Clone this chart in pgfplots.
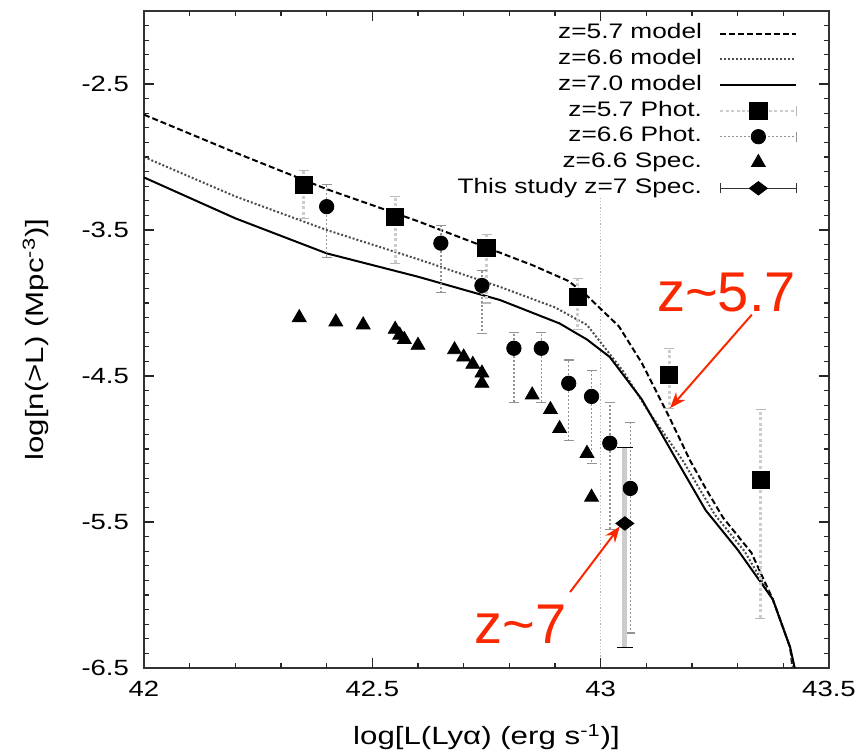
\documentclass[border=0pt]{standalone}
\usepackage{fontspec}
\setmainfont{Liberation Sans}[FakeStretch=1.25]
\newfontfamily\redfont{Liberation Sans}
\usepackage{pgfplots}
\pgfplotsset{compat=1.18}
\usetikzlibrary{arrows.meta}
\definecolor{annred}{RGB}{250,40,0}
\begin{document}
\begin{tikzpicture}
\useasboundingbox (-72pt,-42pt) rectangle (357pt,334pt);
\begin{axis}[
  at={(0pt,0pt)}, anchor=south west,
  scale only axis, width=342.5pt, height=328.5pt,
  xmin=42, xmax=43.5, ymin=-6.5, ymax=-2,
  xtick={42,42.5,43,43.5}, xticklabels={42,42.5,43,43.5},
  ytick={-6.5,-5.5,-4.5,-3.5,-2.5}, yticklabels={-6.5,-5.5,-4.5,-3.5,-2.5},
  tick align=inside,
  tickwidth=5pt, subtickwidth=2.5pt,
  major tick style={draw=black!85, line width=0.6pt},
  axis line style={black!80, line width=0.7pt},
  tick label style={font=\fontsize{11}{12}\selectfont},
  xticklabel style={yshift=-3pt},
  yticklabel style={xshift=-4pt},
  label style={font=\fontsize{12.5}{14}\selectfont},
  xlabel={log[L(Lyα) (erg s\textsuperscript{-1})]},
  ylabel={log[n(>L) (Mpc\textsuperscript{-3})]},
  xlabel style={at={(axis description cs:0.5,-0.117)}, anchor=base},
  ylabel style={at={(axis description cs:-0.158,0.5)}, anchor=center},
  legend plot pos=right,
  legend cell align=right,
  legend style={at={(rel axis cs:0.955,0.986)}, anchor=north east, draw=none, fill=none, inner sep=0pt,
    font=\fontsize{10.5}{13}\selectfont,
    nodes={inner sep=0pt, text height=9pt, text depth=3.9pt},
    /tikz/every odd column/.append style={column sep=8.5pt}},
  legend image code/.code={\draw[mark repeat=2,mark phase=2,#1] plot coordinates {(0pt,0pt) (19pt,0pt) (38pt,0pt)};},
]
\addplot[gray!60, densely dotted, line width=0.6pt, forget plot] coordinates {(43,-3.28) (43,-6.5)};

\addplot[black, line width=1pt, dash pattern=on 3pt off 1.5pt] coordinates {
(42.0,-2.71) (42.2,-2.97) (42.4,-3.22) (42.6,-3.44) (42.75,-3.62) (42.85,-3.74) (42.93,-3.85) (42.97,-3.95) (43.0,-4.04) (43.04,-4.16) (43.09,-4.41) (43.15,-4.78) (43.196,-5.08) (43.23,-5.27) (43.268,-5.47) (43.33,-5.71) (43.377,-6.03) (43.415,-6.36) (43.42,-6.5)};
\addlegendentry{z=5.7 model}

\addplot[black!70, line width=1pt, dash pattern=on 1pt off 1pt] coordinates {
(42.0,-3.00) (42.2,-3.27) (42.4,-3.50) (42.6,-3.70) (42.78,-3.89) (42.9,-4.03) (42.97,-4.15) (43.0,-4.27) (43.05,-4.47) (43.1,-4.72) (43.18,-5.08) (43.25,-5.45) (43.315,-5.70) (43.377,-6.03) (43.415,-6.36) (43.422,-6.5)};
\addlegendentry{z=6.6 model}

\addplot[black, line width=1pt] coordinates {
(42.0,-3.14) (42.2,-3.42) (42.4,-3.66) (42.6,-3.82) (42.78,-3.98) (42.91,-4.14) (42.97,-4.25) (43.02,-4.37) (43.09,-4.66) (43.167,-5.08) (43.23,-5.42) (43.30,-5.69) (43.377,-6.03) (43.415,-6.36) (43.425,-6.5)};
\addlegendentry{z=7.0 model}

\addplot[only marks, mark=square*, mark size=4.3pt, black,
  legend image code/.code={
    \draw[gray!40, line width=1.4pt, dash pattern=on 1.5pt off 1.2pt] (0pt,0pt) -- (38pt,0pt);
    \draw[gray!55, line width=0.6pt] (38pt,-2.5pt) -- (38pt,2.5pt);
    \draw[black] plot[only marks, mark=square*, mark size=4.3pt] coordinates {(19pt,0pt)};},
  error bars/.cd, y dir=both, y explicit,
  error bar style={gray!40, line width=1.4pt, dash pattern=on 1.5pt off 1.2pt},
  error mark options={gray!55, solid, line width=0.6pt, mark size=2.5pt, rotate=90}]
  coordinates {
  (42.35,-3.19) += (0,0.10) -= (0,0.23)
  (42.55,-3.41) += (0,0.14) -= (0,0.32)
  (42.75,-3.62) += (0,0.09) -= (0,0.38)
  (42.95,-3.96) += (0,0.13) -= (0,0.22)
  (43.15,-4.49) += (0,0.18) -= (0,0.23)
  (43.35,-5.21) += (0,0.48) -= (0,0.95)
  };
\addlegendentry{z=5.7 Phot.}

\addplot[only marks, mark=*, mark size=3.6pt, black,
  legend image code/.code={
    \draw[gray!85, line width=0.7pt, dash pattern=on 1pt off 1pt] (0pt,0pt) -- (38pt,0pt);
    \draw[gray!85, line width=0.6pt] (38pt,-2.5pt) -- (38pt,2.5pt);
    \draw[black] plot[only marks, mark=*, mark size=3.6pt] coordinates {(19pt,0pt)};},
  error bars/.cd, y dir=both, y explicit,
  error bar style={gray!85, line width=0.7pt, dash pattern=on 1pt off 1pt},
  error mark options={gray!85, solid, line width=0.6pt, mark size=2.5pt, rotate=90}]
  coordinates {
  (42.40,-3.34) += (0,0.15) -= (0,0.35)
  (42.65,-3.59) += (0,0.12) -= (0,0.34)
  (42.74,-3.88) += (0,0.10) -= (0,0.33)
  (42.81,-4.31) += (0,0.11) -= (0,0.37)
  (42.87,-4.31) += (0,0.11) -= (0,0.37)
  (42.93,-4.55) += (0,0.16) -= (0,0.39)
  (42.98,-4.64) += (0,0.18) -= (0,0.46)
  (43.02,-4.96) += (0,0.28) -= (0,0.59)
  (43.065,-5.27) += (0,0.45) -= (0,0.99)
  };
\addlegendentry{z=6.6 Phot.}

\addplot[only marks, mark=triangle*, mark size=4pt, black] coordinates {
(42.34,-4.10) (42.42,-4.13) (42.48,-4.15) (42.55,-4.18) (42.56,-4.22) (42.57,-4.25) (42.60,-4.29) (42.68,-4.32) (42.70,-4.37) (42.72,-4.42) (42.74,-4.48) (42.74,-4.55) (42.85,-4.63) (42.89,-4.73) (42.91,-4.86) (42.97,-5.03) (42.98,-5.33)};
\addlegendentry{z=6.6 Spec.}

\addplot[only marks, mark=diamond*, mark size=4.5pt, mark options={rotate=90}, black,
  legend image code/.code={
    \draw[black!80, line width=0.6pt] (0pt,0pt) -- (38pt,0pt);
    \draw[black!80, line width=0.6pt] (0pt,-2.5pt) -- (0pt,2.5pt) (38pt,-2.5pt) -- (38pt,2.5pt);
    \draw[black] plot[only marks, mark=diamond*, mark size=4.5pt, mark options={rotate=90}] coordinates {(19pt,0pt)};},
  error bars/.cd, y dir=both, y explicit,
  error bar style={gray!40, line width=2.5pt},
  error mark options={black, line width=0.6pt, mark size=4pt, rotate=90}]
  coordinates {(43.053,-5.51) += (0,0.52) -= (0,0.85)};
\addlegendentry{This study z=7 Spec.}

\node[anchor=base west, text=annred, font=\redfont\fontsize{28}{30}\selectfont, inner sep=0pt] at (axis cs:43.123,-4.06) {z\textasciitilde 5.7};
\node[anchor=base east, text=annred, font=\redfont\fontsize{28}{30}\selectfont, inner sep=0pt] at (axis cs:42.926,-6.33) {z\textasciitilde 7};
\draw[annred, line width=1pt, -{Stealth[length=8pt,width=6pt]}] (axis cs:43.331,-4.08) -- (axis cs:43.152,-4.72);
\draw[annred, line width=1pt, -{Stealth[length=8pt,width=6pt]}] (axis cs:42.933,-5.98) -- (axis cs:43.042,-5.53);
\end{axis}
% frame ticks, inside, on all four sides (every 0.1 in x and y)
\foreach \i in {1,...,14}{
  \pgfmathparse{mod(\i,5)==0 ? 5 : 2.5}\let\len\pgfmathresult
  \draw[black!85, line width=0.6pt] ({\i*342.5pt/15},0pt) -- ++(0pt,\len pt);
  \draw[black!85, line width=0.6pt] ({\i*342.5pt/15},328.5pt) -- ++(0pt,-\len pt);
}
\foreach \i in {1,...,44}{
  \pgfmathparse{mod(\i,10)==0 ? 5 : 2.5}\let\len\pgfmathresult
  \draw[black!85, line width=0.6pt] (0pt,{\i*328.5pt/45}) -- ++(\len pt,0pt);
  \draw[black!85, line width=0.6pt] (342.5pt,{\i*328.5pt/45}) -- ++(-\len pt,0pt);
}
\end{tikzpicture}
\end{document}
